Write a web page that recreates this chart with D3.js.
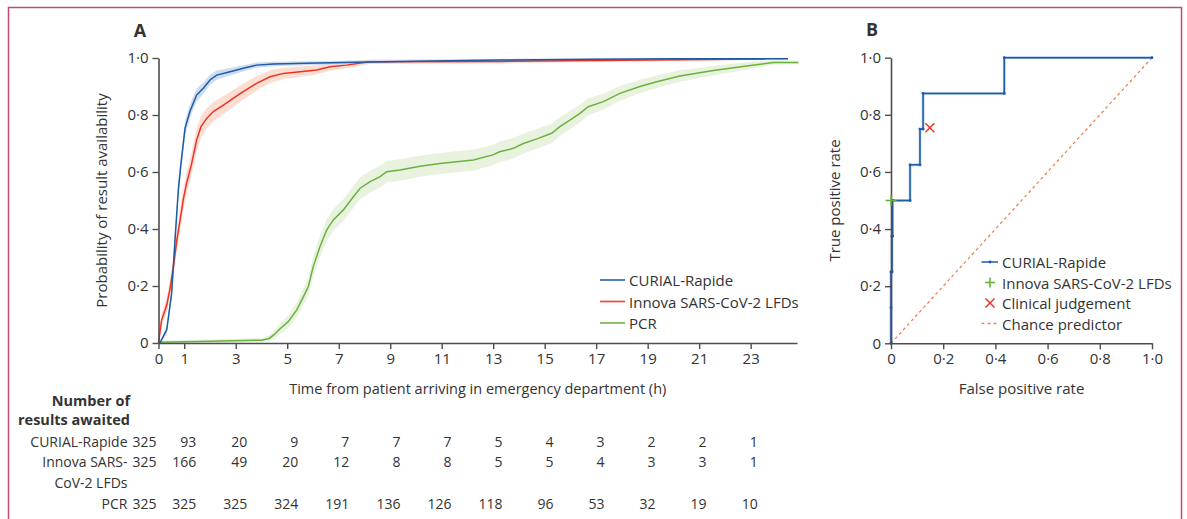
<!DOCTYPE html>
<html>
<head>
<meta charset="utf-8">
<script src="https://cdn.jsdelivr.net/npm/d3@7"></script>
<style>
  body { margin: 0; background: #fff; }
  svg text { font-family: "Open Sans", "Noto Sans", sans-serif; fill: #333; }
</style>
</head>
<body>
<div id="chart"></div>
<script>
// ---- panel A: time to result (h) vs probability of result availability ----
var curialT = [0, 0.07, 0.32, 0.51, 0.64, 0.77, 0.86, 1.03, 1.22, 1.48, 1.74, 2.0, 2.26, 2.78, 3.29, 3.81, 4.46, 5.75, 7.7, 10, 13.3, 17, 20, 24.45]
var curialP = [0, 0.003, 0.046, 0.174, 0.36, 0.537, 0.619, 0.753, 0.812, 0.87, 0.894, 0.923, 0.94, 0.952, 0.964, 0.975, 0.979, 0.982, 0.985, 0.989, 0.993, 0.996, 0.997, 0.997]
var curialCI = [0, 0.003, 0.015, 0.02, 0.025, 0.028, 0.028, 0.027, 0.025, 0.022, 0.02, 0.018, 0.016, 0.013, 0.011, 0.009, 0.008, 0.007, 0.006, 0.005, 0.004, 0.003, 0.003, 0.003]

var innovaT = [0, 0.12, 0.32, 0.45, 0.58, 0.71, 0.84, 0.96, 1.09, 1.29, 1.48, 1.65, 1.87, 2.13, 2.52, 2.91, 3.29, 3.81, 4.33, 4.85, 5.5, 6.14, 6.66, 7.3, 8.2, 13.3, 18, 23.6]
var innovaP = [0, 0.08, 0.133, 0.192, 0.268, 0.36, 0.432, 0.502, 0.56, 0.63, 0.712, 0.759, 0.788, 0.812, 0.835, 0.859, 0.882, 0.911, 0.934, 0.946, 0.952, 0.958, 0.969, 0.975, 0.987, 0.988, 0.992, 0.997]
var innovaCI = [0, 0.02, 0.025, 0.03, 0.035, 0.038, 0.04, 0.04, 0.04, 0.04, 0.04, 0.038, 0.036, 0.034, 0.032, 0.03, 0.028, 0.025, 0.022, 0.02, 0.018, 0.016, 0.014, 0.012, 0.008, 0.007, 0.005, 0.003]

var pcrT = [0, 2, 4.0, 4.3, 4.5, 4.72, 5.04, 5.37, 5.63, 5.82, 6.01, 6.27, 6.53, 6.79, 7.18, 7.57, 7.83, 8.22, 8.61, 8.86, 9.38, 10.16, 10.93, 12.23, 12.99, 13.25, 13.78, 14.17, 14.75, 15.27, 15.59, 15.98, 16.37, 16.69, 17.28, 17.92, 18.7, 19.35, 20.25, 21.55, 22.84, 23.88, 24.85]
var pcrP = [0.003, 0.006, 0.01, 0.016, 0.03, 0.05, 0.075, 0.116, 0.163, 0.198, 0.268, 0.338, 0.396, 0.432, 0.467, 0.513, 0.543, 0.566, 0.584, 0.601, 0.607, 0.62, 0.63, 0.642, 0.66, 0.671, 0.683, 0.7, 0.718, 0.736, 0.759, 0.782, 0.806, 0.829, 0.847, 0.876, 0.9, 0.917, 0.937, 0.956, 0.972, 0.984, 0.984]
var pcrCI = [0.006, 0.006, 0.007, 0.01, 0.015, 0.018, 0.022, 0.026, 0.03, 0.032, 0.035, 0.037, 0.038, 0.038, 0.038, 0.038, 0.038, 0.038, 0.038, 0.038, 0.038, 0.037, 0.037, 0.037, 0.036, 0.036, 0.036, 0.035, 0.035, 0.034, 0.033, 0.032, 0.031, 0.03, 0.028, 0.026, 0.024, 0.022, 0.02, 0.017, 0.013, 0.008, 0.006]

var seriesNames = ["CURIAL-Rapide", "Innova SARS-CoV-2 LFDs", "PCR"]
var xTicksA = [0, 1, 3, 5, 7, 9, 11, 13, 15, 17, 19, 21, 23]
var yTicks = [0, 0.2, 0.4, 0.6, 0.8, 1.0]

// number of results awaited table
var tableTimes = [0, 1, 3, 5, 7, 9, 11, 13, 15, 17, 19, 21, 23]
var curialAwaited = [325, 93, 20, 9, 7, 7, 7, 5, 4, 3, 2, 2, 1]
var innovaAwaited = [325, 166, 49, 20, 12, 8, 8, 5, 5, 4, 3, 3, 1]
var pcrAwaited = [325, 325, 325, 324, 191, 136, 126, 118, 96, 53, 32, 19, 10]

// ---- panel B: ROC ----
var rocFpr = [0, 0, 0, 0.004, 0.004, 0.006, 0.006, 0.073, 0.073, 0.111, 0.111, 0.123, 0.123, 0.434, 0.434, 1.0]
var rocTpr = [0, 0.125, 0.25, 0.25, 0.375, 0.375, 0.5, 0.5, 0.625, 0.625, 0.75, 0.75, 0.875, 0.875, 1.0, 1.0]
var innovaPoint = [0, 0.5]
var clinicalPoint = [0.149, 0.755]
var legendB = ["CURIAL-Rapide", "Innova SARS-CoV-2 LFDs", "Clinical judgement", "Chance predictor"]

var blue = "#1d5ba6", red = "#ee3124", green = "#6ab23e"
var blueBand = "#c9d8ee", redBand = "#fbdacd", greenBand = "#e5f1da"
var axisCol = "#4d4d4d"
var fs = "15px", fsLeg = "15px", fsTab = "14px"

var W = 1187, H = 519
var svg = d3.select("#chart").append("svg")
	.attr("width", W)
	.attr("height", H)

svg.append("rect").attr("width", W).attr("height", H).attr("fill", "#fff")
// outer frame
svg.append("rect")
	.attr("x", 8.5).attr("y", 7.5)
	.attr("width", 1173).attr("height", 600)
	.attr("fill", "none")
	.attr("stroke", "#c24b6e")
	.attr("stroke-width", 1.5)

function fmt(d) {
	return d === 0 ? "0" : d.toFixed(1).replace(".", "\u00b7")
}

function styleAxis(g) {
	g.select(".domain").attr("stroke", axisCol).attr("stroke-width", 1.6)
	g.selectAll(".tick line").attr("stroke", axisCol).attr("stroke-width", 1.4)
	g.selectAll(".tick text").attr("fill", "#333").style("font-size", fs)
		.style("font-family", "'Open Sans', sans-serif")
}

// ================= Panel A =================
var x = d3.scaleLinear().domain([0, 24.8]).range([158.5, 797])
var y = d3.scaleLinear().domain([0, 1]).range([343, 58])

var series = [
	{ t: curialT, p: curialP, ci: curialCI, col: blue, band: blueBand },
	{ t: innovaT, p: innovaP, ci: innovaCI, col: red, band: redBand },
	{ t: pcrT, p: pcrP, ci: pcrCI, col: green, band: greenBand }
]

var area = d3.area()
	.x(function(d) { return x(d.t) })
	.y0(function(d) { return y(Math.max(0, d.p - d.ci)) })
	.y1(function(d) { return y(Math.min(1, d.p + d.ci)) })
var line = d3.line()
	.x(function(d) { return x(d.t) })
	.y(function(d) { return y(d.p) })

series.forEach(function(s) {
	s.pts = s.t.map(function(t, i) { return { t: t, p: s.p[i], ci: s.ci[i] } })
})
// bands first, then lines
series.slice().reverse().forEach(function(s) {
	svg.append("path").datum(s.pts).attr("d", area).attr("fill", s.band).attr("opacity", 0.9)
})
series.slice().reverse().forEach(function(s) {
	svg.append("path").datum(s.pts).attr("d", line)
		.attr("fill", "none").attr("stroke", s.col).attr("stroke-width", 1.5)
})

svg.append("g")
	.attr("transform", "translate(0," + y(0) + ")")
	.call(d3.axisBottom(x).tickValues(xTicksA).tickSize(6).tickSizeOuter(0).tickPadding(4))
	.call(styleAxis)
svg.append("g")
	.attr("transform", "translate(" + x(0) + ",0)")
	.call(d3.axisLeft(y).tickValues(yTicks).tickFormat(fmt).tickSize(6).tickSizeOuter(0).tickPadding(4))
	.call(styleAxis)

svg.append("text").attr("x", 140).attr("y", 37).attr("text-anchor", "middle")
	.style("font-size", "18px").style("font-weight", "bold").attr("fill", "#222").text("A")

svg.append("text")
	.attr("transform", "translate(101," + ((y(0) + y(1)) / 2) + ") rotate(-90)")
	.attr("text-anchor", "middle").attr("dominant-baseline", "central")
	.style("font-size", fs)
	.text("Probability of result availability")
svg.append("text")
	.attr("x", (x.range()[0] + x.range()[1]) / 2).attr("y", 388)
	.attr("text-anchor", "middle").attr("dominant-baseline", "central")
	.style("font-size", "14.5px")
	.text("Time from patient arriving in emergency department (h)")

// legend A
var legA = svg.append("g")
seriesNames.forEach(function(n, i) {
	var ly = 280 + i * 21.5
	legA.append("line").attr("x1", 600).attr("x2", 625).attr("y1", ly).attr("y2", ly)
		.attr("stroke", series[i].col).attr("stroke-width", 1.8).attr("opacity", 0.85)
	legA.append("text").attr("x", 629).attr("y", ly).attr("dominant-baseline", "central")
		.style("font-size", fsLeg).text(n)
})

// table
svg.append("text").attr("x", 130).attr("y", 400).attr("text-anchor", "end")
	.attr("dominant-baseline", "central").style("font-size", "14.5px").style("font-weight", "bold")
	.text("Number of")
svg.append("text").attr("x", 130).attr("y", 419).attr("text-anchor", "end")
	.attr("dominant-baseline", "central").style("font-size", "14.5px").style("font-weight", "bold")
	.text("results awaited")

var rowLabels = [["CURIAL-Rapide", 441.5], ["Innova SARS-", 461.5], ["CoV-2 LFDs", 482], ["PCR", 503]]
rowLabels.forEach(function(r) {
	svg.append("text").attr("x", 127.5).attr("y", r[1]).attr("text-anchor", "end")
		.attr("dominant-baseline", "central").style("font-size", fsTab).text(r[0])
})

var colX = d3.scaleLinear().domain([1, 23]).range([x(1) + 12, x(23) + 7])
function colRight(t) { return t === 0 ? x(0) - 2 : colX(t) }
var tableRows = [[curialAwaited, 441.5], [innovaAwaited, 461.5], [pcrAwaited, 503]]
tableRows.forEach(function(r) {
	svg.append("g").selectAll("text")
		.data(r[0])
		.enter().append("text")
		.attr("x", function(d, i) { return colRight(tableTimes[i]) })
		.attr("y", r[1])
		.attr("text-anchor", "end")
		.attr("dominant-baseline", "central")
		.style("font-size", fsTab)
		.text(function(d) { return d })
})

// ================= Panel B =================
var xb = d3.scaleLinear().domain([0, 1]).range([891, 1152])
var yb = d3.scaleLinear().domain([0, 1]).range([343.3, 57.7])

// chance predictor
svg.append("line")
	.attr("x1", xb(0)).attr("y1", yb(0)).attr("x2", xb(1)).attr("y2", yb(1))
	.attr("stroke", "#f0805a").attr("stroke-width", 1.3).attr("stroke-dasharray", "3,3")

var roc = rocFpr.map(function(f, i) { return [f, rocTpr[i]] })
var rocLine = d3.line().x(function(d) { return xb(d[0]) }).y(function(d) { return yb(d[1]) })
svg.append("path").datum(roc).attr("d", rocLine)
	.attr("fill", "none").attr("stroke", "#b3cbea").attr("stroke-width", 2.8)
svg.append("path").datum(roc).attr("d", rocLine)
	.attr("fill", "none").attr("stroke", blue).attr("stroke-width", 1.5)
svg.append("g").selectAll("circle").data(roc).enter().append("circle")
	.attr("cx", function(d) { return xb(d[0]) }).attr("cy", function(d) { return yb(d[1]) })
	.attr("r", 1.4).attr("fill", blue)

function plus(g, cx, cy, s, col) {
	g.append("line").attr("x1", cx - s).attr("x2", cx + s).attr("y1", cy).attr("y2", cy)
		.attr("stroke", col).attr("stroke-width", 1.6)
	g.append("line").attr("x1", cx).attr("x2", cx).attr("y1", cy - s).attr("y2", cy + s)
		.attr("stroke", col).attr("stroke-width", 1.6)
}
function cross(g, cx, cy, s, col) {
	g.append("line").attr("x1", cx - s).attr("x2", cx + s).attr("y1", cy - s).attr("y2", cy + s)
		.attr("stroke", col).attr("stroke-width", 1.4)
	g.append("line").attr("x1", cx - s).attr("x2", cx + s).attr("y1", cy + s).attr("y2", cy - s)
		.attr("stroke", col).attr("stroke-width", 1.4)
}

svg.append("g")
	.attr("transform", "translate(0," + yb(0) + ")")
	.call(d3.axisBottom(xb).tickValues(yTicks).tickFormat(fmt).tickSize(6).tickSizeOuter(0).tickPadding(4))
	.call(styleAxis)
svg.append("g")
	.attr("transform", "translate(" + xb(0) + ",0)")
	.call(d3.axisLeft(yb).tickValues(yTicks).tickFormat(fmt).tickSize(6).tickSizeOuter(0).tickPadding(4))
	.call(styleAxis)

var marks = svg.append("g")
plus(marks, xb(innovaPoint[0]), yb(innovaPoint[1]), 5.5, green)
cross(marks, xb(clinicalPoint[0]), yb(clinicalPoint[1]), 4.5, red)

svg.append("text").attr("x", 872).attr("y", 36).attr("text-anchor", "middle")
	.style("font-size", "18px").style("font-weight", "bold").attr("fill", "#222").text("B")
svg.append("text")
	.attr("transform", "translate(834," + ((yb(0) + yb(1)) / 2) + ") rotate(-90)")
	.attr("text-anchor", "middle").attr("dominant-baseline", "central")
	.style("font-size", fs)
	.text("True positive rate")
svg.append("text")
	.attr("x", (xb(0) + xb(1)) / 2).attr("y", 387.5)
	.attr("text-anchor", "middle").attr("dominant-baseline", "central")
	.style("font-size", fs)
	.text("False positive rate")

// legend B
var legB = svg.append("g")
legendB.forEach(function(n, i) {
	var ly = 262 + i * 20.5
	var cx = 990
	if (i === 0) {
		legB.append("line").attr("x1", 981.5).attr("x2", 998).attr("y1", ly).attr("y2", ly)
			.attr("stroke", blue).attr("stroke-width", 1.5)
		legB.append("circle").attr("cx", cx).attr("cy", ly).attr("r", 1.4).attr("fill", blue)
	} else if (i === 1) {
		plus(legB, cx, ly, 5, green)
	} else if (i === 2) {
		cross(legB, cx, ly, 4.5, red)
	} else {
		legB.append("line").attr("x1", 981.5).attr("x2", 998).attr("y1", ly).attr("y2", ly)
			.attr("stroke", "#f0805a").attr("stroke-width", 1.3).attr("stroke-dasharray", "3,3")
	}
	legB.append("text").attr("x", 1002).attr("y", ly).attr("dominant-baseline", "central")
		.style("font-size", fsLeg).text(n)
})
</script>
</body>
</html>
